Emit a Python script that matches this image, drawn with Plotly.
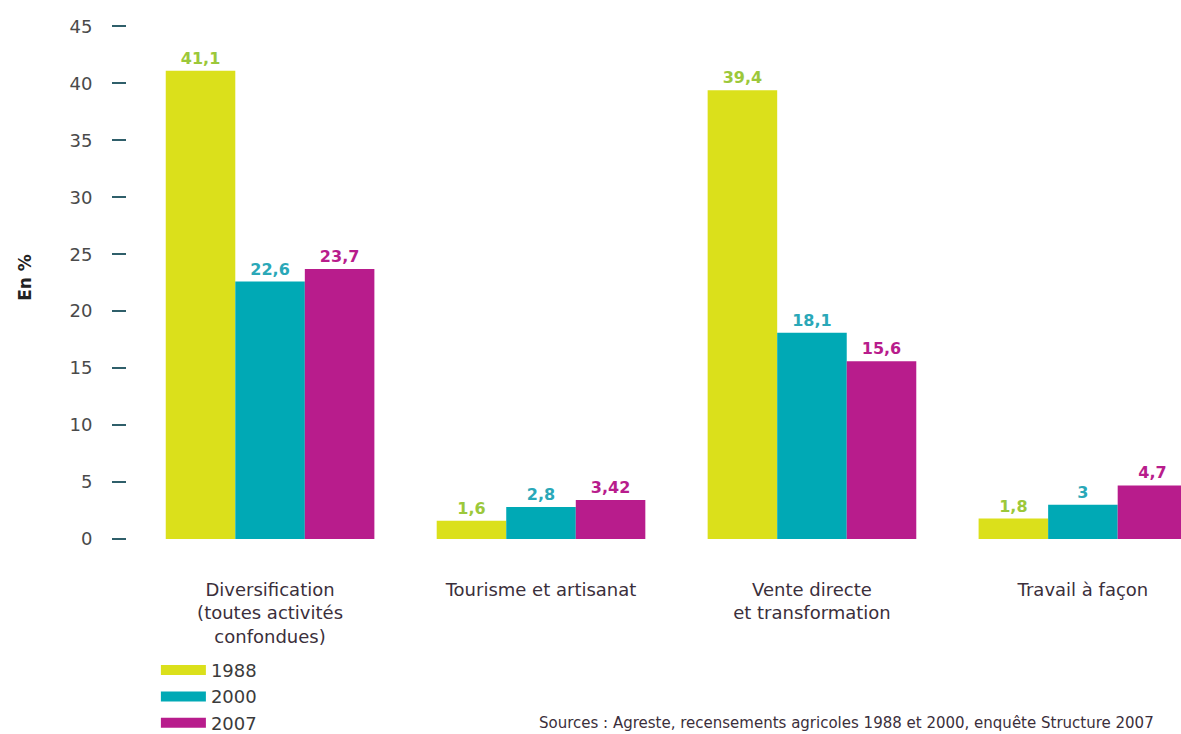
import plotly.graph_objects as go

categories = [
    "Diversification<br>(toutes activités<br>confondues)",
    "Tourisme et artisanat",
    "Vente directe<br>et transformation",
    "Travail à façon",
]
years = ["1988", "2000", "2007"]
values_1988 = [41.1, 1.6, 39.4, 1.8]
values_2000 = [22.6, 2.8, 18.1, 3.0]
values_2007 = [23.7, 3.42, 15.6, 4.7]
labels_1988 = ["41,1", "1,6", "39,4", "1,8"]
labels_2000 = ["22,6", "2,8", "18,1", "3"]
labels_2007 = ["23,7", "3,42", "15,6", "4,7"]
y_ticks = [0, 5, 10, 15, 20, 25, 30, 35, 40, 45]

bar_colors = ["#dbe01b", "#00a9b5", "#b81c8c"]
label_colors = ["#9cc83a", "#2aa8b8", "#b81c8c"]

fig = go.Figure()
series = [values_1988, values_2000, values_2007]
labels = [labels_1988, labels_2000, labels_2007]
xs = list(range(len(categories)))
for yr, vals, labs, bc, lc in zip(years, series, labels, bar_colors, label_colors):
    fig.add_trace(go.Bar(
        x=xs, y=vals, name=yr, marker=dict(color=bc, line=dict(width=0)),
        text=labs, textposition="outside", cliponaxis=False,
        textfont=dict(family="DejaVu Sans", size=16, color=lc, weight="bold"),
        showlegend=False,
    ))
    fig.add_trace(go.Scatter(
        x=[None], y=[None], mode="lines", name=yr,
        line=dict(color=bc, width=13),
    ))

fig.update_layout(
    width=1181, height=734,
    margin=dict(l=127, r=0, t=15, b=195, autoexpand=False),
    paper_bgcolor="white", plot_bgcolor="white",
    barmode="group", bargap=0.23, bargroupgap=0,
    xaxis=dict(
        tickmode="array", tickvals=xs, ticktext=categories, automargin=False,
        range=[-0.528, 3.362], showgrid=False, zeroline=False, showline=False,
        ticks="", ticklabelstandoff=38,
        tickfont=dict(family="DejaVu Sans", size=18, color="#3b2f3b"),
    ),
    yaxis=dict(
        range=[0, 46], tickvals=y_ticks, showgrid=False, zeroline=False,
        showline=False, ticks="outside", ticklen=14, tickwidth=1.8, automargin=False,
        tickcolor="#2f5f6a", ticklabelstandoff=16,
        tickfont=dict(family="DejaVu Sans", size=18, color="#4a4a4a"),
    ),
    legend=dict(
        xref="container", yref="container",
        x=0.132, y=0.112, xanchor="left", yanchor="top",
        orientation="v", itemwidth=45, tracegroupgap=0,
        font=dict(family="DejaVu Sans", size=18, color="#3b3b3b"),
        bgcolor="rgba(0,0,0,0)",
    ),
    annotations=[
        dict(text="<b>En %</b>", textangle=-90, xref="paper", yref="paper",
             x=-0.097, y=0.5, xanchor="center", yanchor="middle", showarrow=False,
             font=dict(family="DejaVu Sans", size=17, color="#222222")),
        dict(text="Sources : Agreste, recensements agricoles 1988 et 2000, enquête Structure 2007",
             xref="paper", yref="paper", x=0.389, y=-0.352, xanchor="left", yanchor="middle",
             showarrow=False,
             font=dict(family="DejaVu Sans", size=15, color="#3b2f3b")),
    ],
)

fig.write_html("out.html", config={"displayModeBar": False},
               post_script="document.body.style.margin='0';document.body.style.overflow='hidden';")
